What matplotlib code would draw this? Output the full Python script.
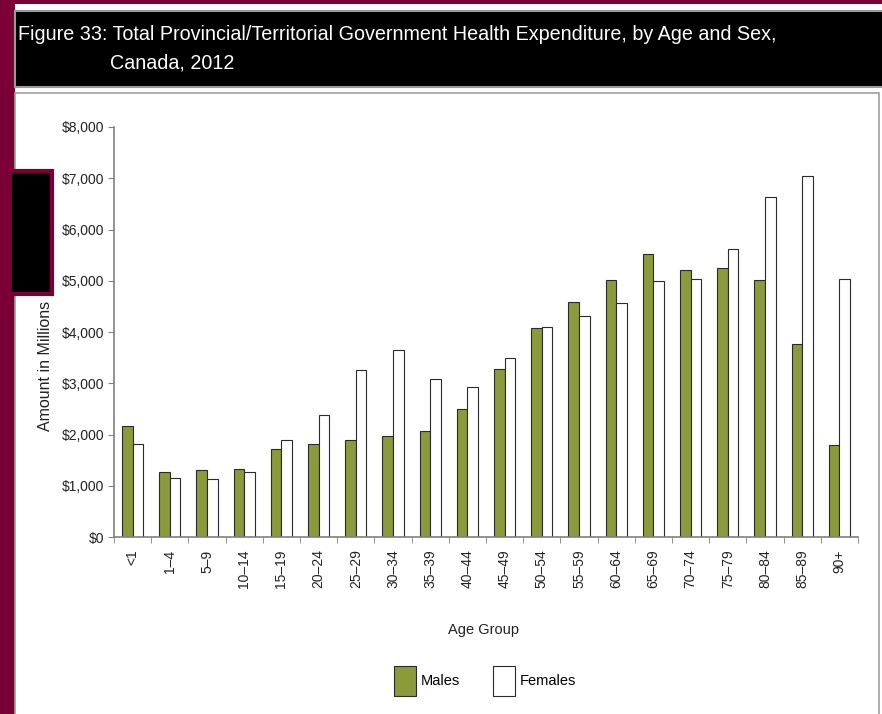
import matplotlib
matplotlib.use("Agg")
import matplotlib.pyplot as plt
from matplotlib.patches import Rectangle
import numpy as np

age_groups = ["<1", "1\u20134", "5\u20139", "10\u201314", "15\u201319", "20\u201324", "25\u201329",
              "30\u201334", "35\u201339", "40\u201344", "45\u201349", "50\u201354", "55\u201359",
              "60\u201364", "65\u201369", "70\u201374", "75\u201379", "80\u201384", "85\u201389", "90+"]
males = [2160, 1270, 1300, 1330, 1720, 1810, 1890, 1980, 2070, 2500,
         3270, 4080, 4580, 5010, 5520, 5210, 5240, 5010, 3770, 1800]
females = [1810, 1160, 1140, 1260, 1890, 2390, 3250, 3640, 3080, 2930,
           3490, 4100, 4310, 4570, 4990, 5040, 5620, 6630, 7050, 5030]
y_ticks = [0, 1000, 2000, 3000, 4000, 5000, 6000, 7000, 8000]

FONT = ["Liberation Sans Narrow", "Liberation Sans", "DejaVu Sans"]
plt.rcParams['font.family'] = FONT

W, H = 882, 714
MAROON = "#7a0036"
GREEN = "#8b9b3b"

fig = plt.figure(figsize=(W / 100, H / 100), dpi=100)
fig.patch.set_facecolor(MAROON)


def rect(x0, y0, x1, y1, **kw):
    r = Rectangle((x0 / W, 1 - y1 / H), (x1 - x0) / W, (y1 - y0) / H,
                  transform=fig.transFigure, **kw)
    fig.add_artist(r)
    return r


# white page area
rect(15, 4, W + 2, H + 2, facecolor="white", edgecolor="none", zorder=0)
# chart frame
rect(15, 93, 879, H + 5, facecolor="white", edgecolor="#a0a0a0", linewidth=1.2, zorder=0.5)
# title bar
rect(15, 11, W + 2, 87, facecolor="black", edgecolor="#9a9a9a", linewidth=1.5, zorder=1)

fig.text(18 / W, 1 - 35 / H, "Figure 33: Total Provincial/Territorial Government Health Expenditure, by Age and Sex,",
         color="white", fontsize=14.2, va="center", ha="left", zorder=3)
fig.text(110 / W, 1 - 63 / H, "Canada, 2012", color="white", fontsize=14.2, va="center", ha="left", zorder=3)

ax = fig.add_axes([114 / W, 1 - 537 / H, 744 / W, 410 / H])
ax.set_zorder(2)
ax.set_facecolor("none")
x = np.arange(len(age_groups))
bw = 0.283
b1 = ax.bar(x - bw / 2, males, width=bw, color=GREEN, edgecolor="#2a2a2a", linewidth=0.8, label="Males")
b2 = ax.bar(x + bw / 2, females, width=bw, color="white", edgecolor="#2a2a2a", linewidth=0.8, label="Females")

ax.set_xlim(-0.5, len(age_groups) - 0.5)
ax.set_ylim(0, 8000)
ax.set_yticks(y_ticks)
ax.set_yticklabels([f"${v:,.0f}" for v in y_ticks], fontsize=10, color="#222222")
ax.set_xticks(x)
ax.set_xticklabels(age_groups, rotation=90, fontsize=10, color="#222222")
ax.set_xticks(np.arange(-0.5, len(age_groups)), minor=True)
ax.tick_params(axis="x", which="major", length=0, pad=9)
ax.tick_params(axis="x", which="minor", length=4, color="#808080", direction="out")
ax.tick_params(axis="y", length=4, color="#808080", direction="out", pad=3)
for s in ["top", "right"]:
    ax.spines[s].set_visible(False)
for s in ["left", "bottom"]:
    ax.spines[s].set_color("#808080")
    ax.spines[s].set_linewidth(1.2)

fig.text(45 / W, 1 - 366 / H, "Amount in Millions", rotation=90, fontsize=11.5,
         color="#222222", ha="center", va="center", zorder=3)
fig.text(483 / W, 1 - 630 / H, "Age Group", fontsize=10.5, color="#222222", ha="center", va="center", zorder=3)

leg = fig.legend(handles=[b1, b2], labels=["Males", "Females"], loc="center",
                 bbox_to_anchor=(485 / W, 1 - 681 / H), ncol=2, frameon=False, fontsize=10.5,
                 handlelength=1.5, handleheight=2.7, handletextpad=0.3, columnspacing=2.3)
leg.set_zorder(3)

# left black box with maroon border
rect(10, 171, 52, 294, facecolor="black", edgecolor=MAROON, linewidth=3, zorder=5)

fig.savefig("out.png", dpi=100, facecolor=fig.get_facecolor())
